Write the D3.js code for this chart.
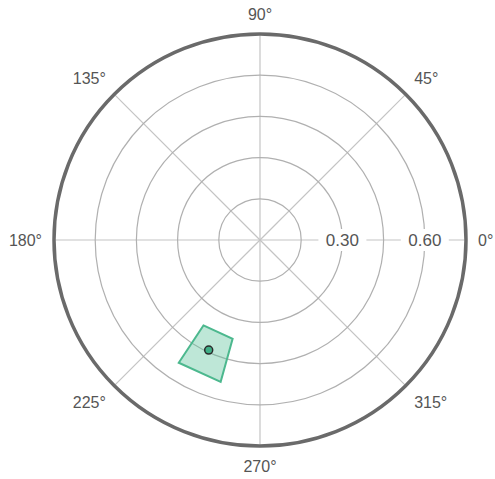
<!DOCTYPE html>
<html>
<head>
<meta charset="utf-8">
<script src="https://cdn.jsdelivr.net/npm/d3@7"></script>
<style>
  body { margin: 0; background: #fff; }
  text { font-family: "Liberation Sans", Arial, sans-serif; fill: #555; }
</style>
</head>
<body>
<div id="chart"></div>
<script>
// data
const angleTicks = [0, 45, 90, 135, 180, 225, 270, 315];
const ringValues = [0.15, 0.30, 0.45, 0.60, 0.75];
const ringLabels = [0.30, 0.60];
const pointR = [0.442];
const pointTheta = [245];
// uncertainty region (radius range, angle range)
const regionR = [0.373, 0.536];
const regionTheta = [236.5, 254.5];

const width = 495, height = 479;
const cx = 260, cy = 240, R = 206;

const svg = d3.select("#chart").append("svg")
    .attr("width", width)
    .attr("height", height);

const g = svg.append("g").attr("transform", `translate(${cx},${cy})`);

const rScale = d3.scaleLinear().domain([0, 0.75]).range([0, R]);
const rad = d => d * Math.PI / 180;
// polar -> screen (y flipped, 0° to the right, counter-clockwise)
const px = (r, t) => rScale(r) * Math.cos(rad(t));
const py = (r, t) => -rScale(r) * Math.sin(rad(t));

// spokes
g.selectAll(".spoke")
    .data(angleTicks)
    .enter().append("line")
    .attr("x1", 0).attr("y1", 0)
    .attr("x2", d => px(0.75, d))
    .attr("y2", d => py(0.75, d))
    .attr("stroke", "#c4c4c4")
    .attr("stroke-width", 1.2);

// rings
g.selectAll(".ring")
    .data(ringValues.slice(0, -1))
    .enter().append("circle")
    .attr("r", d => rScale(d))
    .attr("fill", "none")
    .attr("stroke", "#b0b0b0")
    .attr("stroke-width", 1.2);

// ring labels with white background
const rl = g.selectAll(".rlabel")
    .data(ringLabels)
    .enter().append("g")
    .attr("transform", d => `translate(${rScale(d)},0)`);
rl.append("rect")
    .attr("x", -24).attr("y", -11)
    .attr("width", 48).attr("height", 22)
    .attr("fill", "#fff");
rl.append("text")
    .attr("text-anchor", "middle")
    .attr("dy", "0.35em")
    .style("font-size", "17px")
    .text(d => d.toFixed(2));

// outer circle
g.append("circle")
    .attr("r", rScale(0.75))
    .attr("fill", "none")
    .attr("stroke", "#6a6a6a")
    .attr("stroke-width", 3.5);

// angle labels
const D = R + 12;
g.selectAll(".alabel")
    .data(angleTicks)
    .enter().append("text")
    .attr("x", d => D * Math.cos(rad(d)))
    .attr("y", d => -D * Math.sin(rad(d)))
    .attr("text-anchor", d => {
        const c = Math.cos(rad(d));
        return c > 0.1 ? "start" : c < -0.1 ? "end" : "middle";
    })
    .attr("dy", d => {
        const s = Math.sin(rad(d));
        return s > 0.1 ? "-0.1em" : s < -0.1 ? "0.85em" : "0.35em";
    })
    .style("font-size", "16px")
    .text(d => d + "°");

// uncertainty region
const corners = [
    [regionR[0], regionTheta[0]],
    [regionR[0], regionTheta[1]],
    [regionR[1], regionTheta[1]],
    [regionR[1], regionTheta[0]]
];
g.append("path")
    .attr("d", d3.line()(corners.map(c => [px(c[0], c[1]), py(c[0], c[1])])) + "Z")
    .attr("fill", "#5cc49c")
    .attr("fill-opacity", 0.4)
    .attr("stroke", "#4cb88e")
    .attr("stroke-width", 2);

// point
g.selectAll(".pt")
    .data(pointR)
    .enter().append("circle")
    .attr("cx", (d, i) => px(d, pointTheta[i]))
    .attr("cy", (d, i) => py(d, pointTheta[i]))
    .attr("r", 4)
    .attr("fill", "#3fae86")
    .attr("stroke", "#2a2a2a")
    .attr("stroke-width", 1.5);
</script>
</body>
</html>
